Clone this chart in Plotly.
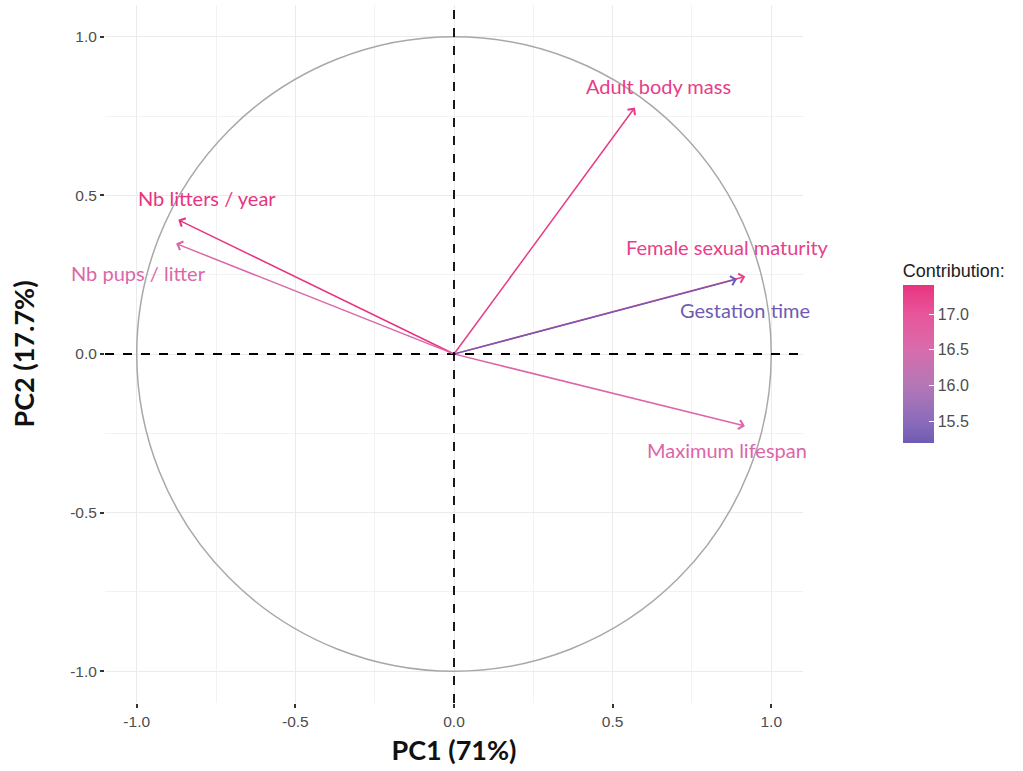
import plotly.graph_objects as go
from plotly.colors import sample_colorscale

# ---- data ----
variables = ["Adult body mass", "Female sexual maturity", "Gestation time",
             "Maximum lifespan", "Nb litters / year", "Nb pups / litter"]
pc1 = [0.570, 0.918, 0.892, 0.917, -0.869, -0.876]
pc2 = [0.777, 0.244, 0.236, -0.227, 0.423, 0.348]
contrib = [17.30, 17.25, 15.19, 16.65, 17.40, 16.60]
x_ticks = [-1.0, -0.5, 0.0, 0.5, 1.0]
y_ticks = [-1.0, -0.5, 0.0, 0.5, 1.0]
cbar_ticks = [15.5, 16.0, 16.5, 17.0]

# label offsets in pixels (repel-like placement)
label_dx = [24, -18, 8, -18, 29, -38]
label_dy = [21, 30, -31, -24, 22, -29]

scale = [[0.0, "#6F5BB3"], [0.14, "#8C6CBB"], [0.367, "#B477B6"],
         [0.593, "#D86CAC"], [0.82, "#E8559A"], [1.0, "#E8347F"]]
cmin, cmax = min(contrib), max(contrib)
cols = sample_colorscale(scale, [(c - cmin) / (cmax - cmin) for c in contrib])

fig = go.Figure()

# invisible trace carrying the colour scale (for the colorbar)
fig.add_trace(go.Scatter(
    x=pc1, y=pc2, mode="markers",
    marker=dict(size=0.1, color=contrib, colorscale=scale, cmin=cmin, cmax=cmax, opacity=0,
                showscale=True,
                colorbar=dict(
                    title=dict(text="Contribution:", side="top",
                               font=dict(family="Liberation Sans", size=18, color="#222222")),
                    x=1.143, xanchor="left", xpad=0,
                    y=0.503, yanchor="middle", ypad=0,
                    len=183, lenmode="pixels", thickness=31, thicknessmode="pixels",
                    outlinewidth=0,
                    tickvals=cbar_ticks, ticktext=[f"{v:.1f}" for v in cbar_ticks],
                    ticks="inside", ticklen=5, tickcolor="white",
                    tickfont=dict(family="Liberation Sans", size=16, color="#4d4d4d"),
                )),
    hoverinfo="skip", showlegend=False))

shapes = [
    dict(type="circle", xref="x", yref="y", x0=-1, y0=-1, x1=1, y1=1,
         line=dict(color="#a8a8a8", width=1.5), layer="above"),
    dict(type="line", xref="paper", yref="y", x0=0, x1=1, y0=0, y1=0,
         line=dict(color="black", width=1.8, dash="dash"), layer="above"),
    dict(type="line", xref="x", yref="paper", x0=0, x1=0, y0=0, y1=1,
         line=dict(color="black", width=1.8, dash="dash"), layer="above"),
]

annotations = []
for name, x, y, c, dx, dy in zip(variables, pc1, pc2, cols, label_dx, label_dy):
    annotations.append(dict(
        x=x, y=y, ax=0, ay=0, xref="x", yref="y", axref="x", ayref="y",
        text="", showarrow=True, arrowhead=4, arrowsize=1.2, arrowwidth=1.5,
        arrowcolor=c, standoff=0, startstandoff=0))
    annotations.append(dict(
        x=x, y=y, xref="x", yref="y", text=name, showarrow=False,
        xshift=dx, yshift=dy, font=dict(family="Lato", size=20, color=c)))

axis_common = dict(
    range=[-1.1, 1.1], showgrid=True, gridcolor="#ebebeb", gridwidth=1.2,
    zeroline=False, ticks="outside", ticklen=4, tickwidth=1.5, tickcolor="#333333",
    tickfont=dict(family="Liberation Sans", size=15.5, color="#4d4d4d"),
    minor=dict(dtick=0.25, showgrid=True, gridcolor="#f2f2f2", gridwidth=0.9),
    showline=False, automargin=False,
)

fig.update_layout(
    width=1023, height=771,
    margin=dict(l=105, r=220, t=5, b=68),
    paper_bgcolor="white", plot_bgcolor="white",
    xaxis=dict(**axis_common, tickvals=x_ticks, ticktext=[f"{v:.1f}" for v in x_ticks],
               title=dict(text="<b>PC1 (71%)</b>", standoff=12,
                          font=dict(family="Lato", size=27, color="#111111"))),
    yaxis=dict(**axis_common, tickvals=y_ticks, ticktext=[f"{v:.1f}" for v in y_ticks],
               title=dict(text="<b>PC2 (17.7%)</b>", standoff=27,
                          font=dict(family="Lato", size=27, color="#111111"))),
    shapes=shapes, annotations=annotations, showlegend=False,
)

fig.write_html("out.html", config={"displayModeBar": False},
               post_script="document.body.style.margin='0px';")
